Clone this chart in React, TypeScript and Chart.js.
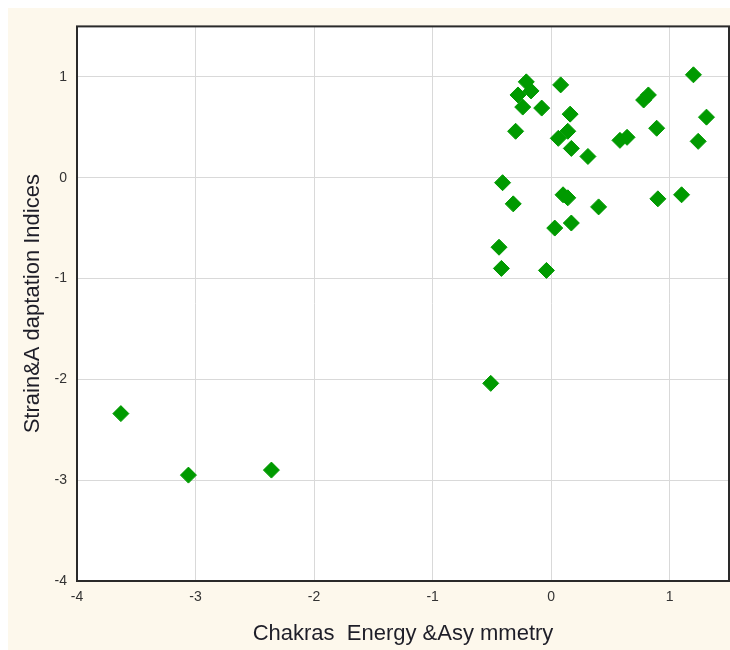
import React, { useEffect, useRef } from "react";
import { Chart, registerables } from "chart.js";

Chart.register(...registerables);

const xValues = [
  1.20, -0.21, -0.17, -0.28, -0.24, -0.08, 0.08, 0.16, 0.14, 0.06,
  0.17, 0.31, -0.30, 0.58, 0.64, 0.78, 0.82, 0.89, 1.31, 1.24,
  -0.41, -0.32, 0.10, 0.14, 0.40, 0.90, 1.10, 0.03, 0.17, -0.44,
  -0.42, -0.04, -0.51, -3.63, -3.06, -2.36,
];
const yValues = [
  1.02, 0.95, 0.86, 0.82, 0.70, 0.69, 0.92, 0.63, 0.46, 0.39,
  0.29, 0.21, 0.46, 0.37, 0.40, 0.77, 0.82, 0.49, 0.60, 0.36,
  -0.05, -0.26, -0.17, -0.20, -0.29, -0.21, -0.17, -0.50, -0.45, -0.69,
  -0.90, -0.92, -2.04, -2.34, -2.95, -2.90,
];
const xTicks = [-4, -3, -2, -1, 0, 1];
const yTicks = [-4, -3, -2, -1, 0, 1];
const xTitle = "Chakras  Energy &Asy mmetry";
const yTitle = "Strain&A daptation Indices";

const FONT = "'Liberation Sans', Arial, sans-serif";

const frame = {
  id: "frame",
  beforeDraw(chart: any) {
    const { ctx, chartArea: a } = chart;
    ctx.save();
    ctx.fillStyle = "#ffffff";
    ctx.fillRect(a.left, a.top, a.right - a.left, a.bottom - a.top);
    ctx.restore();
  },
  afterDraw(chart: any) {
    const { ctx, chartArea: a } = chart;
    ctx.save();
    ctx.strokeStyle = "#2a2a2a";
    ctx.lineWidth = 2;
    ctx.strokeRect(a.left, a.top, a.right - a.left, a.bottom - a.top);
    ctx.restore();
  },
};

export default function App() {
  const ref = useRef<HTMLCanvasElement>(null);
  useEffect(() => {
    if (!ref.current) return;
    const points = xValues.map((x, i) => ({ x, y: yValues[i] }));
    const chart = new Chart(ref.current, {
      type: "scatter",
      data: {
        datasets: [
          {
            data: points,
            pointStyle: "rectRot",
            pointRadius: 8,
            pointHoverRadius: 8,
            backgroundColor: "#009a00",
            borderColor: "#009a00",
            borderWidth: 1,
          },
        ],
      },
      options: {
        responsive: false,
        animation: false,
        devicePixelRatio: 1,
        layout: { autoPadding: false, padding: { top: 16, right: 1, left: 0, bottom: 0 } },
        plugins: { legend: { display: false }, tooltip: { enabled: false } },
        scales: {
          x: {
            type: "linear",
            min: -4,
            max: 1.5,
            afterBuildTicks: (s: any) => {
              s.ticks = xTicks.map((v) => ({ value: v }));
            },
            afterFit: (s: any) => {
              s.height = 69;
            },
            ticks: {
              includeBounds: false,
              padding: 8,
              color: "#333333",
              font: { family: FONT, size: 14 },
            },
            grid: { color: "#d9d9d9", lineWidth: 1, drawTicks: false },
            border: { display: false },
            title: {
              display: true,
              text: xTitle,
              color: "#1e1e28",
              font: { family: FONT, size: 22 },
              padding: { top: 0, bottom: 3 },
            },
          },
          y: {
            type: "linear",
            min: -4,
            max: 1.5,
            afterBuildTicks: (s: any) => {
              s.ticks = yTicks.map((v) => ({ value: v }));
            },
            afterFit: (s: any) => {
              s.width = 69;
            },
            ticks: {
              includeBounds: false,
              padding: 10,
              color: "#333333",
              font: { family: FONT, size: 14 },
            },
            grid: { color: "#d9d9d9", lineWidth: 1, drawTicks: false },
            border: { display: false },
            title: {
              display: true,
              text: yTitle,
              color: "#1e1e28",
              font: { family: FONT, size: 22 },
              padding: { top: 12, bottom: 0 },
            },
          },
        },
      },
      plugins: [frame],
    });
    return () => chart.destroy();
  }, []);
  return (
    <div
      style={{
        position: "fixed",
        left: 8,
        top: 8,
        width: 722,
        height: 642,
        background: "#fdf8ec",
      }}
    >
      <canvas ref={ref} width={722} height={642} style={{ display: "block" }} />
    </div>
  );
}
